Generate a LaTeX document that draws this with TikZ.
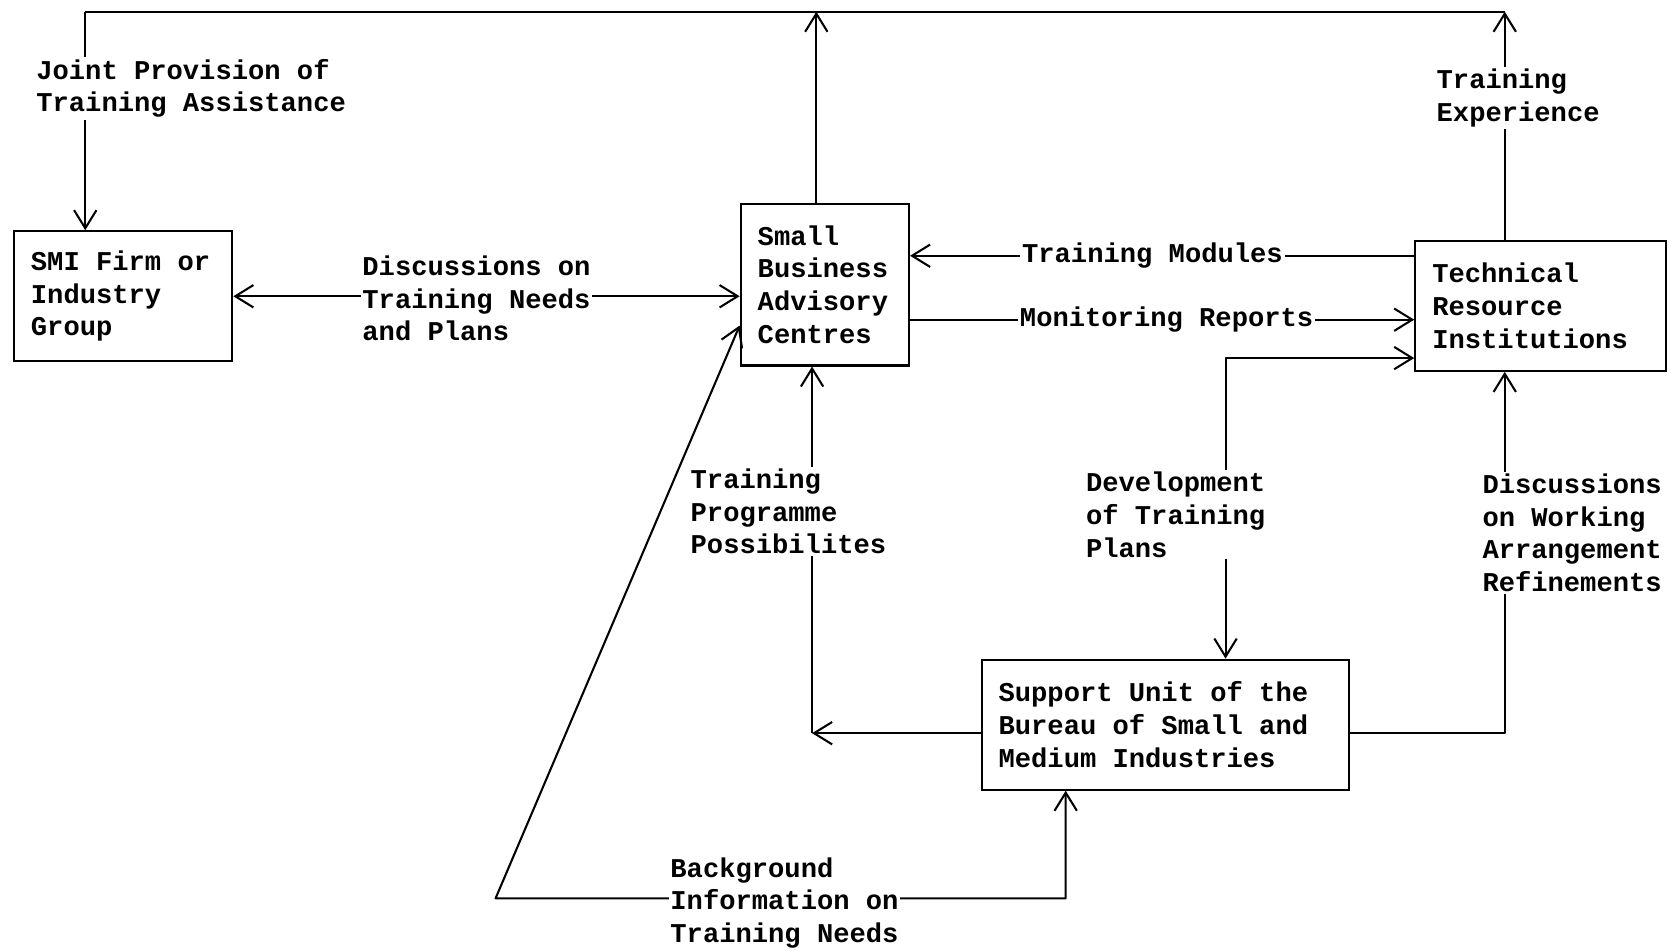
\documentclass[tikz,border=0pt]{standalone}
\usepackage{fontspec}
\setmonofont{Liberation Mono}
\usetikzlibrary{arrows.meta}
\usetikzlibrary{calc}
\newcommand{\diagfont}{\ttfamily\bfseries\fontsize{14.5pt}{17.4pt}\selectfont}
\tikzset{
  wire/.style={line width=1.1pt, line join=round},
  flow/.style={wire, -{Straight Barb[length=3.4mm,width=4.2mm]}},
  twoway/.style={wire, {Straight Barb[length=3.4mm,width=4.2mm]}-{Straight Barb[length=3.4mm,width=4.2mm]}},
  unitbox/.style={draw, line width=1.1pt, align=left, inner xsep=0.32cm, inner ysep=0pt, font=\diagfont,
    execute at begin node={\spaceskip=0pt\xspaceskip=0pt}},
  flowlabel/.style={anchor=west, align=left, fill=white, inner sep=1pt, font=\diagfont},
}

\begin{document}
\begin{tikzpicture}[x={(0.02cm,0)}, y={(0,-0.02cm)}]
        \useasboundingbox (0,0) rectangle (1568,891);
        % boxes
        \node[unitbox, text width=3.46cm, minimum height=2.44cm] (smi) at (115.5,278) {SMI Firm or\\Industry\\Group};
        \node[unitbox, text width=2.52cm, minimum height=3.04cm] (sbac) at (774,267) {Small\\Business\\Advisory\\Centres};
        \node[unitbox, text width=4.06cm, minimum height=2.44cm] (tri) at (1445.5,287) {Technical\\Resource\\Institutions};
        \node[unitbox, text width=6.26cm, minimum height=2.44cm] (sup) at (1093.5,680) {Support Unit of the\\Bureau of Small and\\Medium Industries};
        % ~~~~~~~~~~~~~~~~~
        \coordinate (busL) at (80,11);
        \coordinate (busM) at (766,11);
        \coordinate (busR) at (1412,11);
        \coordinate (tm) at (1000,240);
        \coordinate (mr) at (1000,300);
        \coordinate (dev) at (1150,336);
        \coordinate (tp) at (762,688);
        \coordinate (wr) at (1412,688);
        \coordinate (bgL) at (465,843);
        \coordinate (bgR) at (1000,843);
        % connectors
        \draw[wire] (busL) -- (busR);
        \draw[flow] (busL) -- (busL |- smi.north);
        \draw[flow] (busM |- sbac.north) -- (busM);
        \draw[flow] (busR |- tri.north) -- (busR);
        \draw[twoway] (smi.east) -- (smi.east -| sbac.west);
        \draw[flow] (tm -| tri.west) -- (tm -| sbac.east);
        \draw[flow] (mr -| sbac.east) -- (mr -| tri.west);
        \draw[twoway] (dev -| tri.west) -- (dev) -- (dev |- sup.north);
        \draw[flow] (tp -| sup.west) -- (tp);
        \draw[flow] (tp) -- (tp |- sbac.south);
        \draw[flow] (wr -| sup.east) -- (wr) -- (wr |- tri.south);
        \draw[twoway] ($(sbac.west)!0.5!(sbac.south west)$) -- (bgL) -- (bgR) -- (bgR |- sup.south);
        % labels
        \node[flowlabel] (jointlbl) at (32,83) {Joint Provision of\\Training Assistance};
        \node[flowlabel] (needslbl) at (338,280) {Discussions on\\Training Needs\\and Plans};
        \node[flowlabel] (modlbl) at (957,240) {Training Modules};
        \node[flowlabel] (replbl) at (955,300) {Monitoring Reports};
        \node[flowlabel] (explbl) at (1346,92) {Training\\Experience};
        \node[flowlabel] (devlbl) at (1017,483) {Development\\of Training\\Plans};
        \node[flowlabel] (proglbl) at (646,480) {Training\\Programme\\Possibilites};
        \node[flowlabel] (arrlbl) at (1389,500) {Discussions\\on Working\\Arrangement\\Refinements};
        \node[flowlabel] (bglbl) at (627,847) {Background\\Information on\\Training Needs};
\end{tikzpicture}
\end{document}
